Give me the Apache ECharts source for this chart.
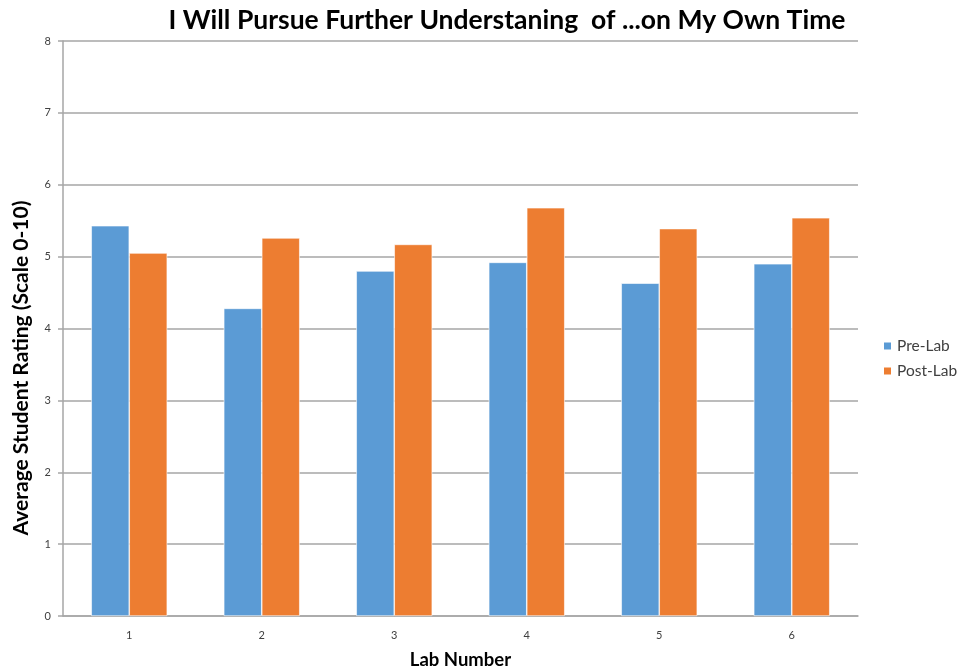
<!DOCTYPE html>
<html>
<head>
<meta charset="utf-8">
<script src="https://cdn.jsdelivr.net/npm/echarts@6/dist/echarts.min.js"></script>
<style>html,body{margin:0;padding:0;background:#fff}#main{width:958px;height:670px}</style>
</head>
<body>
<div id="main"></div>
<script>
const categories = ['1', '2', '3', '4', '5', '6'];
const preLab = [5.43, 4.28, 4.80, 4.92, 4.63, 4.90];
const postLab = [5.05, 5.26, 5.17, 5.68, 5.39, 5.54];
const yTicks = [0, 1, 2, 3, 4, 5, 6, 7, 8];
const yAxisTitle = 'Average Student Rating (Scale 0-10)';

const chart = echarts.init(document.getElementById('main'));
chart.setOption({
  animation: false,
  backgroundColor: '#ffffff',
  title: {
    text: 'I Will Pursue Further Understaning  of ...on My Own Time',
    left: 502, textAlign: 'center', top: 2,
    textStyle: { fontFamily: 'Lato', fontWeight: 'bold', fontSize: 26.5, color: '#000000' }
  },
  legend: {
    orient: 'vertical', left: 877, top: 333, itemWidth: 9, itemHeight: 9, itemGap: 9,
    icon: 'rect',
    textStyle: { fontFamily: 'Lato', fontSize: 15.5, color: '#404040' },
    data: ['Pre-Lab', 'Post-Lab']
  },
  graphic: [{
    type: 'text', x: 21, y: 368, rotation: Math.PI / 2,
    style: {
      text: yAxisTitle, fill: '#000', textAlign: 'center', textVerticalAlign: 'middle',
      font: 'bold 21px Lato'
    }
  }],
  grid: { left: 63, right: 100, top: 41, bottom: 54, outerBoundsMode: 'none', containLabel: false },
  xAxis: {
    type: 'category', data: categories,
    name: 'Lab Number', nameLocation: 'middle', nameGap: 35,
    nameTextStyle: { fontFamily: 'Lato', fontWeight: 'bold', fontSize: 18.5, color: '#000' },
    axisLine: { lineStyle: { color: '#A6A6A6', width: 1.5 } },
    axisTick: { show: false },
    axisLabel: { fontFamily: 'Lato', fontSize: 11, color: '#404040', margin: 14 }
  },
  yAxis: {
    type: 'value', min: yTicks[0], max: yTicks[yTicks.length - 1], interval: 1,
    axisLine: { show: true, lineStyle: { color: '#A6A6A6', width: 1.5 } },
    axisTick: { show: true, length: 5, lineStyle: { color: '#A6A6A6', width: 1.5 } },
    splitLine: { lineStyle: { color: '#A6A6A6', width: 1.5 } },
    axisLabel: { fontFamily: 'Lato', fontSize: 11, color: '#404040', margin: 12 }
  },
  series: [
    { name: 'Pre-Lab', type: 'bar', data: preLab, barWidth: 38, barGap: '0%',
      itemStyle: { color: '#5B9BD5', borderColor: '#ffffff', borderWidth: 0.6 } },
    { name: 'Post-Lab', type: 'bar', data: postLab, barWidth: 38, barGap: '0%',
      itemStyle: { color: '#ED7D31', borderColor: '#ffffff', borderWidth: 0.6 } }
  ]
});
</script>
</body>
</html>
